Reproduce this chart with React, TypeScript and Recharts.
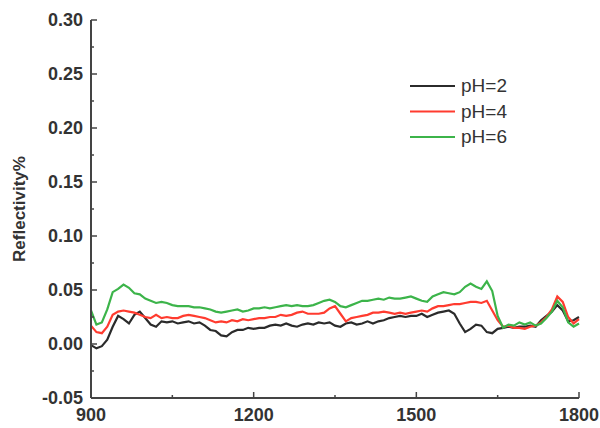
import { Line, LineChart, XAxis, YAxis } from "recharts";

const wavelengths = [
  900, 910, 920, 930, 940, 950, 960, 970, 980, 990, 1000, 1010, 1020, 1030, 1040, 1050, 1060, 1070, 1080, 1090,
  1100, 1110, 1120, 1130, 1140, 1150, 1160, 1170, 1180, 1190, 1200, 1210, 1220, 1230, 1240, 1250, 1260, 1270,
  1280, 1290, 1300, 1310, 1320, 1330, 1340, 1350, 1360, 1370, 1380, 1390, 1400, 1410, 1420, 1430, 1440, 1450,
  1460, 1470, 1480, 1490, 1500, 1510, 1520, 1530, 1540, 1550, 1560, 1570, 1580, 1590, 1600, 1610, 1620, 1630,
  1640, 1650, 1660, 1670, 1680, 1690, 1700, 1710, 1720, 1730, 1740, 1750, 1760, 1770, 1780, 1790, 1800,
];

const ph2 = [
  -0.001, -0.004, -0.002, 0.004, 0.016, 0.026, 0.023, 0.019, 0.027, 0.03, 0.024, 0.018, 0.016, 0.021, 0.02, 0.021,
  0.019, 0.02, 0.021, 0.019, 0.02, 0.017, 0.013, 0.012, 0.008, 0.007, 0.011, 0.013, 0.013, 0.015, 0.014, 0.015,
  0.015, 0.017, 0.018, 0.017, 0.019, 0.017, 0.016, 0.018, 0.019, 0.018, 0.02, 0.019, 0.02, 0.017, 0.016, 0.019,
  0.02, 0.018, 0.019, 0.021, 0.019, 0.021, 0.022, 0.024, 0.025, 0.026, 0.025, 0.026, 0.026, 0.028, 0.025, 0.027,
  0.029, 0.03, 0.031, 0.028, 0.019, 0.011, 0.014, 0.018, 0.017, 0.011, 0.01, 0.014, 0.015, 0.016, 0.015, 0.016,
  0.016, 0.017, 0.016, 0.022, 0.026, 0.03, 0.036, 0.031, 0.021, 0.022, 0.025,
];

const ph4 = [
  0.017, 0.011, 0.01, 0.016, 0.027, 0.03, 0.031, 0.03, 0.029, 0.027, 0.025, 0.024, 0.027, 0.024, 0.025, 0.024,
  0.024, 0.026, 0.027, 0.026, 0.025, 0.024, 0.022, 0.02, 0.021, 0.02, 0.022, 0.021, 0.023, 0.022, 0.023, 0.024,
  0.024, 0.025, 0.025, 0.027, 0.026, 0.027, 0.029, 0.03, 0.028, 0.028, 0.028, 0.029, 0.033, 0.035, 0.028, 0.021,
  0.024, 0.025, 0.026, 0.027, 0.029, 0.029, 0.03, 0.029, 0.028, 0.029, 0.028, 0.029, 0.03, 0.031, 0.03, 0.033,
  0.035, 0.035, 0.036, 0.037, 0.037, 0.038, 0.039, 0.039, 0.038, 0.04, 0.031, 0.022, 0.016, 0.017, 0.015, 0.015,
  0.014, 0.016, 0.017, 0.02, 0.025, 0.032, 0.044, 0.039, 0.025, 0.019, 0.023,
];

const ph6 = [
  0.031, 0.018, 0.02, 0.032, 0.048, 0.051, 0.055, 0.052, 0.047, 0.046, 0.042, 0.04, 0.038, 0.039, 0.038, 0.036,
  0.035, 0.035, 0.035, 0.034, 0.034, 0.033, 0.032, 0.03, 0.029, 0.03, 0.031, 0.032, 0.03, 0.031, 0.033, 0.033,
  0.034, 0.033, 0.034, 0.035, 0.036, 0.035, 0.036, 0.035, 0.035, 0.036, 0.038, 0.04, 0.041, 0.039, 0.035, 0.034,
  0.036, 0.038, 0.04, 0.04, 0.041, 0.042, 0.041, 0.043, 0.042, 0.042, 0.043, 0.044, 0.042, 0.04, 0.039, 0.044,
  0.046, 0.048, 0.047, 0.046, 0.048, 0.053, 0.056, 0.053, 0.051, 0.058, 0.049, 0.026, 0.015, 0.018, 0.017, 0.02,
  0.018, 0.02, 0.017, 0.019, 0.024, 0.03, 0.04, 0.034, 0.02, 0.016, 0.019,
];

const xTicks = [900, 1050, 1200, 1350, 1500, 1650, 1800];
const yTicks = [-0.05, -0.025, 0, 0.025, 0.05, 0.075, 0.1, 0.125, 0.15, 0.175, 0.2, 0.225, 0.25, 0.275, 0.3];

const series = [
  { key: "ph2", name: "pH=2", color: "#2b2b2b" },
  { key: "ph4", name: "pH=4", color: "#ff3b2f" },
  { key: "ph6", name: "pH=6", color: "#3cb44a" },
];

const data = wavelengths.map((w, i) => ({ w, ph2: ph2[i], ph4: ph4[i], ph6: ph6[i] }));

const axisColor = "#444";
const font = "'Liberation Sans', Arial, sans-serif";

function YTick({ x, y, payload }: any) {
  const v = payload.value;
  const major = Math.round(v * 1000) % 50 === 0;
  return (
    <g>
      <line x1={x} x2={x + (major ? 6 : 3)} y1={y} y2={y} stroke={axisColor} strokeWidth={1.5} />
      {major && (
        <text x={x - 8} y={y} dy={6} textAnchor="end" fontSize={18} fontWeight="bold" fill="#333" fontFamily={font}>
          {v.toFixed(2)}
        </text>
      )}
    </g>
  );
}

function XTick({ x, y, payload }: any) {
  const v = payload.value;
  const major = v % 300 === 0;
  return (
    <g>
      <line x1={x} x2={x} y1={y} y2={y - (major ? 6 : 3)} stroke={axisColor} strokeWidth={1.5} />
      {major && (
        <text x={x} y={y} dy={23} textAnchor="middle" fontSize={18} fontWeight="bold" fill="#333" fontFamily={font}>
          {v}
        </text>
      )}
    </g>
  );
}

// legend drawn on top of the chart, inside the plot area
function LegendBox() {
  return (
    <svg width={120} height={80} style={{ position: "absolute", left: 408, top: 76 }}>
      {series.map((s, i) => (
        <g key={s.key}>
          <line x1={2} x2={47} y1={10 + i * 25.5} y2={10 + i * 25.5} stroke={s.color} strokeWidth={2} />
          <text x={53} y={10 + i * 25.5} dy={6} fontSize={19} fill="#333" fontFamily={font}>
            {s.name}
          </text>
        </g>
      ))}
    </svg>
  );
}

export default function App() {
  return (
    <div style={{ position: "absolute", left: 0, top: 0, width: 600, height: 428, background: "#fff" }}>
      <LineChart width={600} height={428} data={data} margin={{ top: 20, right: 21, bottom: 0, left: 0 }}>
        <XAxis
          dataKey="w"
          type="number"
          domain={[900, 1800]}
          ticks={xTicks}
          interval={0}
          height={30}
          tickSize={0}
          tickMargin={0}
          tick={<XTick />}
          axisLine={{ stroke: axisColor, strokeWidth: 2 }}
          tickLine={false}
        />
        <XAxis xAxisId="top" orientation="top" dataKey="w" type="number" domain={[900, 1800]} height={0} tick={false} tickLine={false} axisLine={{ stroke: axisColor, strokeWidth: 2 }} />
        <YAxis
          type="number"
          domain={[-0.05, 0.3]}
          ticks={yTicks}
          interval={0}
          width={91}
          tickSize={0}
          tickMargin={0}
          tick={<YTick />}
          axisLine={{ stroke: axisColor, strokeWidth: 2 }}
          tickLine={false}
          label={{
            value: "Reflectivity%",
            angle: -90,
            position: "insideLeft",
            offset: 19,
            style: { textAnchor: "middle", fontSize: 17, fontWeight: "bold", fill: "#333", fontFamily: font },
          }}
        />
        <YAxis yAxisId="right" orientation="right" domain={[-0.05, 0.3]} width={0} tick={false} tickLine={false} axisLine={{ stroke: axisColor, strokeWidth: 2 }} />
        {series.map((s) => (
          <Line
            key={s.key}
            dataKey={s.key}
            name={s.name}
            type="linear"
            stroke={s.color}
            strokeWidth={2.2}
            dot={false}
            isAnimationActive={false}
          />
        ))}
      </LineChart>
      <LegendBox />
    </div>
  );
}
